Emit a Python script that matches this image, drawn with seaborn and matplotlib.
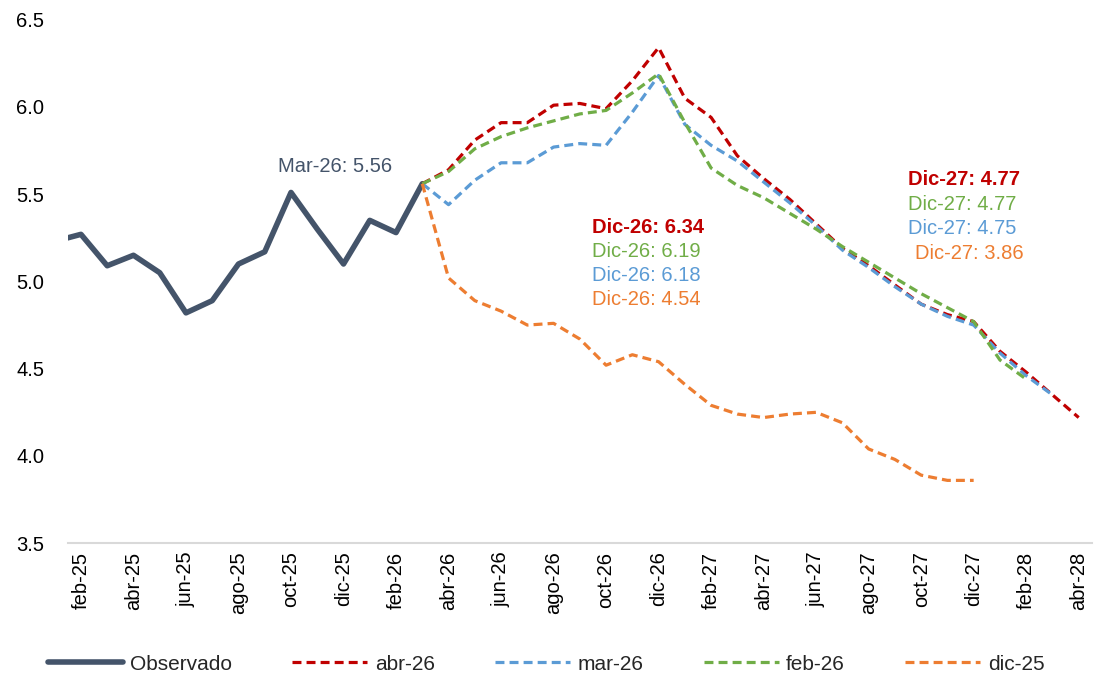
import matplotlib
matplotlib.use("Agg")
import matplotlib.pyplot as plt
import numpy as np
import pandas as pd
import seaborn as sns


# meses desde ene-25 hasta abr-28
MES = ['ene', 'feb', 'mar', 'abr', 'may', 'jun', 'jul', 'ago', 'sep', 'oct', 'nov', 'dic']
meses = [f'{m}-{a}' for a in ('25', '26', '27', '28') for m in MES][:40]

etiquetas_x = ['feb-25', 'abr-25', 'jun-25', 'ago-25', 'oct-25', 'dic-25',
               'feb-26', 'abr-26', 'jun-26', 'ago-26', 'oct-26', 'dic-26',
               'feb-27', 'abr-27', 'jun-27', 'ago-27', 'oct-27', 'dic-27',
               'feb-28', 'abr-28']
ticks_y = [3.5, 4.0, 4.5, 5.0, 5.5, 6.0, 6.5]

# observado: ene-25 .. mar-26
observado = [5.23, 5.27, 5.09, 5.15, 5.05, 4.82, 4.89, 5.10, 5.17, 5.51,
             5.30, 5.10, 5.35, 5.28, 5.56]
# pronósticos: todos empiezan en mar-26
abr26 = [5.56, 5.64, 5.81, 5.91, 5.91, 6.01, 6.02, 5.99, 6.15, 6.34,
         6.05, 5.94, 5.72, 5.59, 5.47, 5.33, 5.19, 5.09, 4.98, 4.87, 4.81, 4.77,
         4.60, 4.48, 4.35, 4.22]
mar26 = [5.56, 5.44, 5.58, 5.68, 5.68, 5.77, 5.79, 5.78, 5.97, 6.18,
         5.90, 5.78, 5.69, 5.57, 5.45, 5.32, 5.18, 5.08, 4.97, 4.87, 4.80, 4.75,
         4.59, 4.46, 4.35]
feb26 = [5.56, 5.63, 5.76, 5.83, 5.88, 5.92, 5.96, 5.98, 6.08, 6.19,
         5.91, 5.65, 5.55, 5.48, 5.39, 5.30, 5.20, 5.11, 5.02, 4.93, 4.85, 4.77,
         4.55, 4.44]
dic25 = [5.56, 5.02, 4.89, 4.83, 4.75, 4.76, 4.67, 4.52, 4.58, 4.54,
         4.41, 4.29, 4.24, 4.22, 4.24, 4.25, 4.19, 4.04, 3.98, 3.89, 3.86, 3.86]

series = [('Observado', 'ene-25', observado),
          ('abr-26', 'mar-26', abr26),
          ('mar-26', 'mar-26', mar26),
          ('feb-26', 'mar-26', feb26),
          ('dic-25', 'mar-26', dic25)]

colores = {'Observado': '#44546A', 'abr-26': '#C00000', 'mar-26': '#5B9BD5',
           'feb-26': '#70AD47', 'dic-25': '#ED7D31'}
orden = ['Observado', 'abr-26', 'mar-26', 'feb-26', 'dic-25']


def armar_df(series):
    filas = []
    for nombre, inicio, valores in series:
        p0 = meses.index(inicio)
        for i, v in enumerate(valores):
            filas.append((nombre, p0 + i, v))
    return pd.DataFrame(filas, columns=['serie', 'pos', 'valor'])


df = armar_df(series)

sns.set_theme(style='white')
plt.rcParams['font.family'] = ['Liberation Sans', 'DejaVu Sans']

fig, ax = plt.subplots(figsize=(10.94, 6.79), dpi=100)
fig.subplots_adjust(left=0.062, right=0.998, top=0.971, bottom=0.2)

sns.lineplot(data=df, x='pos', y='valor', hue='serie', style='serie', size='serie',
             hue_order=orden, style_order=orden, size_order=orden,
             palette=colores,
             dashes={'Observado': '', 'abr-26': (2.8, 1.6), 'mar-26': (2.8, 1.6),
                     'feb-26': (2.8, 1.6), 'dic-25': (2.8, 1.6)},
             sizes={'Observado': 4.0, 'abr-26': 2.3, 'mar-26': 2.3,
                    'feb-26': 2.3, 'dic-25': 2.3},
             ax=ax, legend='full')

# ejes
ax.set_xlim(0.5, len(meses) - 0.5)
ax.set_ylim(3.5, 6.5)
ax.set_xticks([meses.index(e) for e in etiquetas_x])
ax.set_xticklabels(etiquetas_x, rotation=90, fontsize=14.5, color='black')
ax.set_yticks(ticks_y)
ax.set_yticklabels([f'{t:.1f}' for t in ticks_y], fontsize=14.5, color='black')
ax.tick_params(axis='y', length=0, pad=17)
ax.tick_params(axis='x', length=0, pad=6)
ax.set_xlabel('')
ax.set_ylabel('')
for s in ['top', 'right', 'left']:
    ax.spines[s].set_visible(False)
ax.spines['bottom'].set_color('#D9D9D9')
ax.spines['bottom'].set_linewidth(1.5)

# anotaciones
ax.text(meses.index('nov-25') + 0.67, 5.66, 'Mar-26: 5.56', color='#44546A',
        fontsize=14.5, ha='center', va='center')

txt26 = [('Dic-26: 6.34', '#C00000', 'bold'), ('Dic-26: 6.19', '#70AD47', 'normal'),
         ('Dic-26: 6.18', '#5B9BD5', 'normal'), ('Dic-26: 4.54', '#ED7D31', 'normal')]
for i, (t, c, w) in enumerate(txt26):
    ax.text(meses.index('sep-26') + 0.45, 5.31 - i * 0.137, t, color=c,
            fontsize=14.5, fontweight=w, ha='left', va='center')

txt27 = [('Dic-27: 4.77', '#C00000', 'bold'), ('Dic-27: 4.77', '#70AD47', 'normal'),
         ('Dic-27: 4.75', '#5B9BD5', 'normal'), ('Dic-27: 3.86', '#ED7D31', 'normal')]
for i, (t, c, w) in enumerate(txt27):
    dx = 0.25 if i == 3 else 0.0
    ax.text(meses.index('sep-27') + 0.5 + dx, 5.585 - i * 0.142, t, color=c,
            fontsize=14.5, fontweight=w, ha='left', va='center')

sns.move_legend(ax, 'center', bbox_to_anchor=(0.467, -0.231), ncol=5, title=None,
                frameon=False, fontsize=15, handlelength=3.6, handletextpad=0.35,
                columnspacing=2.9)

fig.savefig('out.png', dpi=100)
